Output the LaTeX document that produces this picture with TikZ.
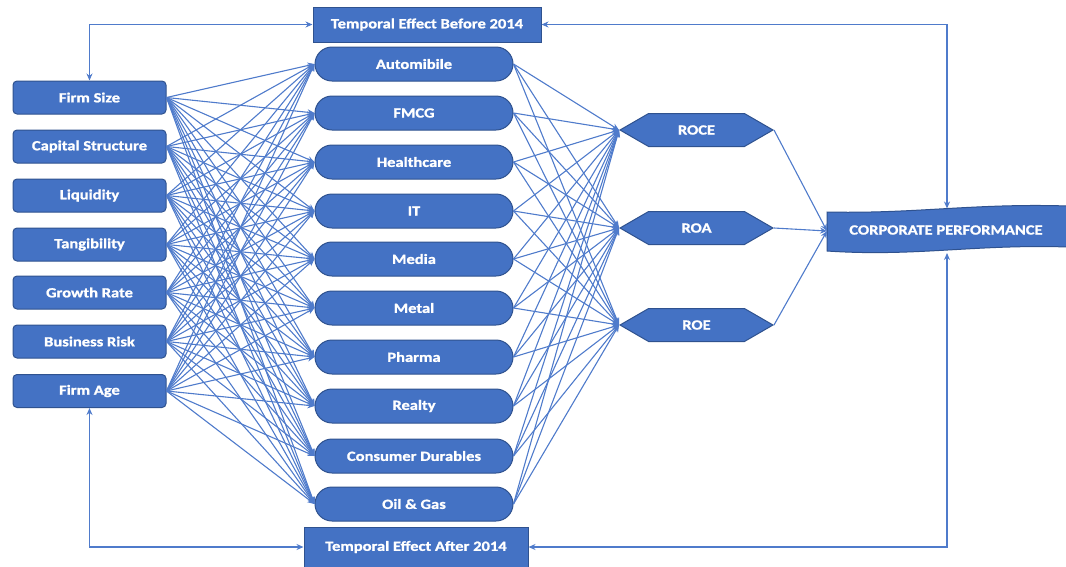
\documentclass[tikz,border=0pt]{standalone}
\usepackage{fontspec}
\setmainfont[FakeStretch=1.18, BoldFeatures={FakeBold=1.2}]{Carlito}
\usetikzlibrary{shapes.misc,shapes.symbols,arrows.meta}
\definecolor{fillblue}{HTML}{4472C4}
\definecolor{edgeblue}{HTML}{2F528F}
\definecolor{lineblue}{HTML}{4F7BCB}
\begin{document}
\begin{tikzpicture}[x=1pt,y=-1pt,
 base/.style={fill=fillblue, draw=edgeblue, line width=1pt, text=white, font=\bfseries\fontsize{14}{16}\selectfont, inner sep=0pt},
 lbox/.style={base, rectangle, rounded corners=4pt, minimum width=153pt, minimum height=33pt},
 sbox/.style={base, rounded rectangle, minimum width=198pt, minimum height=34pt},
 hbox/.style={base, signal, signal to=east and west, signal pointer angle=60, minimum width=153pt, minimum height=33pt},
 tbox/.style={base, rectangle, minimum width=228pt, minimum height=35pt},
 conn/.style={draw=lineblue, line width=1.1pt, -{Stealth[length=7pt,width=6pt]}},
 dconn/.style={draw=lineblue, line width=1.1pt, {Stealth[length=7pt,width=6pt]}-{Stealth[length=7pt,width=6pt]}},
]
\useasboundingbox (0,0) rectangle (1066,566);
% left factors
\foreach \n/\t/\y in {fs/Firm Size/97.5, cs/Capital Structure/146.5, li/Liquidity/195.5, ta/Tangibility/244.5, gr/Growth Rate/292.5, br/Business Risk/341.5, fa/Firm Age/391}
  \node[lbox] (\n) at (89.5,\y) {\t};
% sectors
\foreach \n/\t/\y in {s1/Automibile/64, s2/FMCG/113, s3/Healthcare/162, s4/IT/211, s5/Media/259, s6/Metal/308, s7/Pharma/357, s8/Realty/406, s9/Consumer Durables/456, s10/Oil \& Gas/504}
  \node[sbox] (\n) at (414,\y) {\t};
% measures
\node[hbox] (roce) at (696.5,130) {ROCE};
\node[hbox] (roa) at (696.5,228) {ROA};
\node[hbox] (roe) at (696.5,325) {ROE};
% temporal
\node[tbox] (before) at (427,24.5) {Temporal Effect Before 2014};
\node[tbox, minimum height=40pt, minimum width=224pt] (after) at (416,547) {Temporal Effect After 2014};
% corporate performance wave
\draw[fill=fillblue, draw=edgeblue, line width=1pt]
  (827,212) .. controls (915,214) and (975,203) .. (1068,206)
  -- (1068,247) .. controls (975,244) and (915,257) .. (827,251) -- cycle;
\node[text=white, font=\bfseries\fontsize{14}{16}\selectfont, inner sep=0pt] (cp) at (946,230) {CORPORATE PERFORMANCE};
\coordinate (cpW) at (827,231);
\coordinate (cpN) at (947,208.5);
\coordinate (cpS) at (947,253);
% connectors
\foreach \a in {fs,cs,li,ta,gr,br,fa}
  \foreach \b in {s1,s2,s3,s4,s5,s6,s7,s8,s9,s10}
    \draw[conn] (\a.east) -- (\b.west);
\foreach \a in {s1,s2,s3,s4,s5,s6,s7,s8,s9,s10}
  \foreach \b in {roce,roa,roe}
    \draw[conn] (\a.east) -- (\b.west);
\foreach \a in {roce,roa,roe}
  \draw[conn] (\a.east) -- (cpW);
\draw[dconn] (before.west) -| (fs.north);
\draw[dconn] (before.east) -| (cpN);
\draw[dconn] (after.west) -| (fa.south);
\draw[dconn] (after.east) -| (cpS);
\end{tikzpicture}
\end{document}
